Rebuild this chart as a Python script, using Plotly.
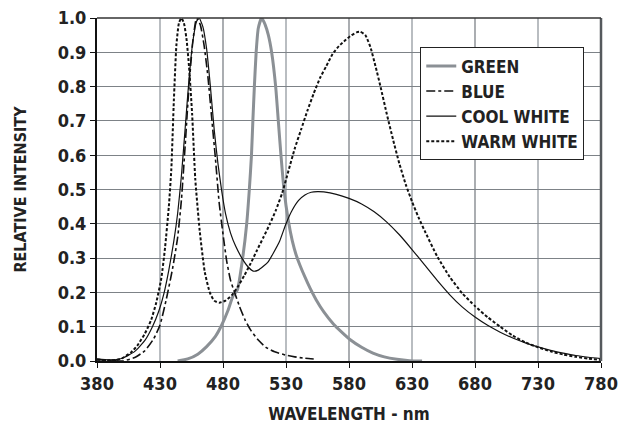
import plotly.graph_objects as go

# ---- data ----
green_wl = [444, 452, 460, 467, 474, 479, 484, 488, 491.4, 495.6, 498.8, 500.9, 502.6, 503.7, 504.9,
            506.3, 508, 510.7, 513.5, 516, 518.6, 521.8, 523.9, 526, 528.4, 531.8, 535, 538, 541, 545,
            549, 554, 560, 567.6, 574, 581, 590, 599, 608, 618, 628, 638]
green_val = [0.0, 0.006, 0.02, 0.042, 0.072, 0.105, 0.148, 0.19, 0.207, 0.3, 0.4, 0.5, 0.6, 0.7, 0.8,
             0.9, 0.97, 1.0, 0.98, 0.95, 0.9, 0.8, 0.7, 0.6, 0.5, 0.41, 0.35, 0.31, 0.28, 0.245,
             0.213, 0.178, 0.143, 0.108, 0.085, 0.062, 0.04, 0.023, 0.012, 0.005, 0.001, 0.0]

blue_wl = [380, 390, 400, 410, 418, 425, 430, 435, 440, 444, 447, 450, 453, 456, 459, 462, 465, 468,
           471, 474, 477, 480, 483, 486, 489.5, 493, 497.5, 502, 508, 514, 521, 530, 537, 545, 552]
blue_val = [0.004, 0.002, 0.0, 0.01, 0.03, 0.065, 0.105, 0.18, 0.27, 0.36, 0.47, 0.63, 0.8, 0.93, 1.0, 0.98,
            0.92, 0.83, 0.71, 0.59, 0.46, 0.37, 0.29, 0.235, 0.197, 0.16, 0.12, 0.09, 0.061, 0.04, 0.027,
            0.017, 0.012, 0.008, 0.006]

cool_wl = [380, 390, 400, 410, 418, 424, 429, 433, 437, 441, 444, 447, 450, 453, 456, 459, 461,
           464, 467, 470, 473, 476, 479, 482, 486, 490, 495, 500, 504, 508, 512, 516, 520, 525,
           530, 535, 540, 545, 550, 555, 560, 570, 580, 590, 600, 610, 620, 630, 640, 650, 660, 670,
           680, 690, 700, 710, 720, 730, 740, 750, 760, 770, 780]
cool_val = [0.006, 0.003, 0.008, 0.028, 0.06, 0.1, 0.145, 0.195, 0.265, 0.35, 0.43, 0.54, 0.68,
            0.82, 0.93, 0.99, 1.0, 0.975, 0.91, 0.8, 0.675, 0.575, 0.495, 0.43, 0.373, 0.335, 0.3, 0.274,
            0.262, 0.265, 0.276, 0.29, 0.315, 0.35, 0.4, 0.44, 0.468, 0.484, 0.492, 0.494, 0.493,
            0.486, 0.474, 0.458, 0.435, 0.405, 0.368, 0.325, 0.28, 0.235, 0.193, 0.157, 0.128, 0.104,
            0.084, 0.067, 0.053, 0.041, 0.031, 0.023, 0.016, 0.011, 0.007]

warm_wl = [380, 390, 395, 400, 407, 412, 418, 423, 427, 431, 434, 437, 439, 441, 443, 445, 447, 449, 451,
           453, 455.5, 458, 461.5, 465.5, 469.5, 473, 477, 482, 487, 492, 497, 502, 507, 512, 517, 522,
           527, 532, 537, 542, 547, 552, 557, 562, 567, 572, 577, 582, 586, 589, 593, 597, 601, 605,
           610, 615, 620, 625, 630, 635, 640, 650, 660, 670, 680, 690, 700, 710, 720, 730, 740, 750,
           760, 770, 780]
warm_val = [0.004, 0.002, 0.003, 0.008, 0.025, 0.045, 0.08, 0.12, 0.17, 0.24, 0.33, 0.45, 0.56, 0.76, 0.92,
            0.985, 1.0, 0.985, 0.94, 0.86, 0.72, 0.53, 0.38, 0.26, 0.2, 0.176, 0.17, 0.176, 0.192, 0.218,
            0.25, 0.285, 0.323, 0.36, 0.398, 0.44, 0.49, 0.555, 0.62, 0.675, 0.73, 0.78, 0.825, 0.86,
            0.895, 0.918, 0.935, 0.95, 0.958, 0.96, 0.95, 0.915, 0.86, 0.80, 0.72, 0.645, 0.575, 0.515,
            0.465, 0.42, 0.38, 0.305, 0.245, 0.197, 0.16, 0.128, 0.10, 0.074, 0.054, 0.04, 0.028, 0.019,
            0.012, 0.007, 0.003]

x_ticks = [380, 430, 480, 530, 580, 630, 680, 730, 780]
y_ticks = [0.0, 0.1, 0.2, 0.3, 0.4, 0.5, 0.6, 0.7, 0.8, 0.9, 1.0]
light_grid = [430, 530, 630, 730]
dark_grid = [480, 580, 680]

FONT = "Liberation Sans Narrow, DejaVu Sans Condensed, Roboto, sans-serif"
TXT = "#222222"

fig = go.Figure()
fig.add_trace(go.Scatter(x=green_wl, y=green_val, name="<b>GREEN</b>", mode="lines",
                         line=dict(color="#8b9095", width=3, shape="spline", smoothing=0.5)))
fig.add_trace(go.Scatter(x=blue_wl, y=blue_val, name="<b>BLUE</b>", mode="lines",
                         line=dict(color="#111111", width=1.6, dash="dashdot", shape="spline", smoothing=0.5)))
fig.add_trace(go.Scatter(x=cool_wl, y=cool_val, name="<b>COOL WHITE</b>", mode="lines",
                         line=dict(color="#111111", width=1.2, shape="spline", smoothing=0.5)))
fig.add_trace(go.Scatter(x=warm_wl, y=warm_val, name="<b>WARM WHITE</b>", mode="lines",
                         line=dict(color="#111111", width=2, dash="3px,2px", shape="spline", smoothing=0.5)))

shapes = []
for g in light_grid:
    shapes.append(dict(type="line", xref="x", yref="paper", x0=g, x1=g, y0=0, y1=1,
                       line=dict(color="#b9bdc1", width=2), layer="between"))
for g in dark_grid:
    shapes.append(dict(type="line", xref="x", yref="paper", x0=g, x1=g, y0=0, y1=1,
                       line=dict(color="#7d8287", width=1.3), layer="between"))
# right and top frame
shapes.append(dict(type="line", xref="paper", yref="paper", x0=1, x1=1, y0=0, y1=1,
                   line=dict(color="#55595d", width=2.5), layer="above"))
shapes.append(dict(type="line", xref="paper", yref="paper", x0=0, x1=1, y0=1, y1=1,
                   line=dict(color="#333333", width=1.3), layer="above"))

fig.update_layout(
    width=621, height=428,
    margin=dict(l=97, r=20, t=18, b=67, autoexpand=False),
    paper_bgcolor="white", plot_bgcolor="white",
    font=dict(family=FONT, color=TXT, size=17),
    shapes=shapes,
    showlegend=True,
    legend=dict(x=0.641, y=0.915, xanchor="left", yanchor="top",
                bgcolor="white", bordercolor="#222222", borderwidth=1.2,
                font=dict(family=FONT, size=17, color=TXT),
                itemwidth=30, tracegroupgap=0),
)
fig.update_xaxes(range=[380, 780], tickvals=x_ticks, ticktext=["<b>%d</b>" % v for v in x_ticks],
                 showgrid=False, zeroline=False, automargin=False, ticklabeloverflow="allow",
                 showline=True, linecolor="#111111", linewidth=2,
                 ticks="outside", ticklen=5, tickcolor="#111111",
                 tickfont=dict(family=FONT, size=18, color=TXT),
                 title=dict(text="<b>WAVELENGTH - nm</b>", standoff=16,
                            font=dict(family=FONT, size=17, color=TXT)))
fig.update_yaxes(range=[0, 1.0], tickvals=y_ticks, ticktext=["<b>%.1f</b>" % v for v in y_ticks],
                 showgrid=True, gridcolor="#7d8287", gridwidth=1.3, zeroline=False, automargin=False,
                 ticklabeloverflow="allow",
                 showline=True, linecolor="#111111", linewidth=2,
                 ticks="outside", ticklen=5, tickcolor="#111111",
                 tickfont=dict(family=FONT, size=18, color=TXT),
                 title=dict(text="<b>RELATIVE INTENSITY</b>", standoff=27,
                            font=dict(family=FONT, size=16, color=TXT)))

fig.write_html("out.html", config={"displayModeBar": False},
               post_script="document.body.style.margin='0';")
